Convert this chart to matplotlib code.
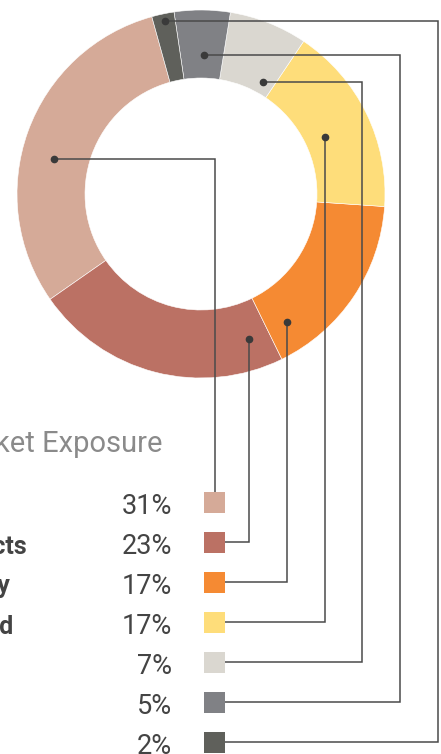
import matplotlib
matplotlib.use("Agg")
import matplotlib.pyplot as plt
import numpy as np

# data
sectors = ["Industrial Products", "Consumer Products", "Technology", "Diversified",
           "Healthcare", "Financials", "Other"]
shares = [31, 23, 17, 17, 7, 5, 2]
pct_labels = ["31%", "23%", "17%", "17%", "7%", "5%", "2%"]
colors = ["#D5AA98", "#BB7164", "#F58A33", "#FEDD7A", "#DAD7D0", "#808185", "#5F605B"]
title = "Market Exposure"

# layout (pixels, y measured from top of the 441x754 canvas)
W, H = 441, 754
cx, cy = 201, 194
r_out, r_in = 184, 116
start = 105.5
dot_ang = [166.6, 288.3, 304.0, 24.7, 61.0, 88.8, 101.8]
dot_r = [151, 153, 154, 136, 128, 139, 177]
col_x = [215, None, None, None, 362, 400, 438]
row0, row_step = 502, 40
sq_x, sq = 204, 21
line_c = "#4a4a4a"
fam = ["Roboto", "DejaVu Sans"]


def Y(y):
    return H - y


fig = plt.figure(figsize=(W / 100, H / 100), dpi=100)
ax = fig.add_axes([0, 0, 1, 1])

ax.pie(shares, colors=colors, startangle=start, counterclock=True,
       center=(cx, Y(cy)), radius=r_out, frame=True,
       wedgeprops=dict(width=r_out - r_in, edgecolor="white", linewidth=0.4))

for i in range(len(shares)):
    a = np.deg2rad(dot_ang[i])
    dx = cx + dot_r[i] * np.cos(a)
    dy = cy - dot_r[i] * np.sin(a)
    ry = row0 + i * row_step
    ax.plot(dx, Y(dy), "o", color="#3a3a3a", ms=4.5, zorder=5)
    if col_x[i] is None:
        xs = [dx, dx, sq_x + sq]
        ys = [dy, ry, ry]
    elif i == 0:
        xs = [dx, col_x[i], col_x[i]]
        ys = [dy, dy, ry - sq / 2]
    else:
        xs = [dx, col_x[i], col_x[i], sq_x + sq]
        ys = [dy, dy, ry, ry]
    ax.plot(xs, [Y(v) for v in ys], color=line_c, lw=1.1, zorder=4,
            solid_joinstyle="miter")
    ax.add_patch(plt.Rectangle((sq_x, Y(ry + sq / 2)), sq, sq,
                               facecolor=colors[i], edgecolor="none", zorder=6))
    ax.text(172, Y(ry + 1), pct_labels[i], ha="right", va="center_baseline",
            fontsize=19.5, fontweight="normal", family=fam, color="#444444")

# sector names (their left part falls outside the canvas, as in the source)
name_end = {1: 27, 2: 10, 3: 14}
for i, xe in name_end.items():
    ax.text(xe, Y(row0 + i * row_step + 2), sectors[i], ha="right",
            va="center_baseline", fontsize=18, fontweight="bold", family=fam,
            color="#444444")

ax.text(163, Y(441), title, ha="right", va="center_baseline", fontsize=21,
        fontweight="normal", family=fam, color="#8a8a8a")

ax.set_xlim(0, W)
ax.set_ylim(0, H)
ax.set_aspect("equal")
ax.axis("off")

fig.savefig("out.png", dpi=100)
